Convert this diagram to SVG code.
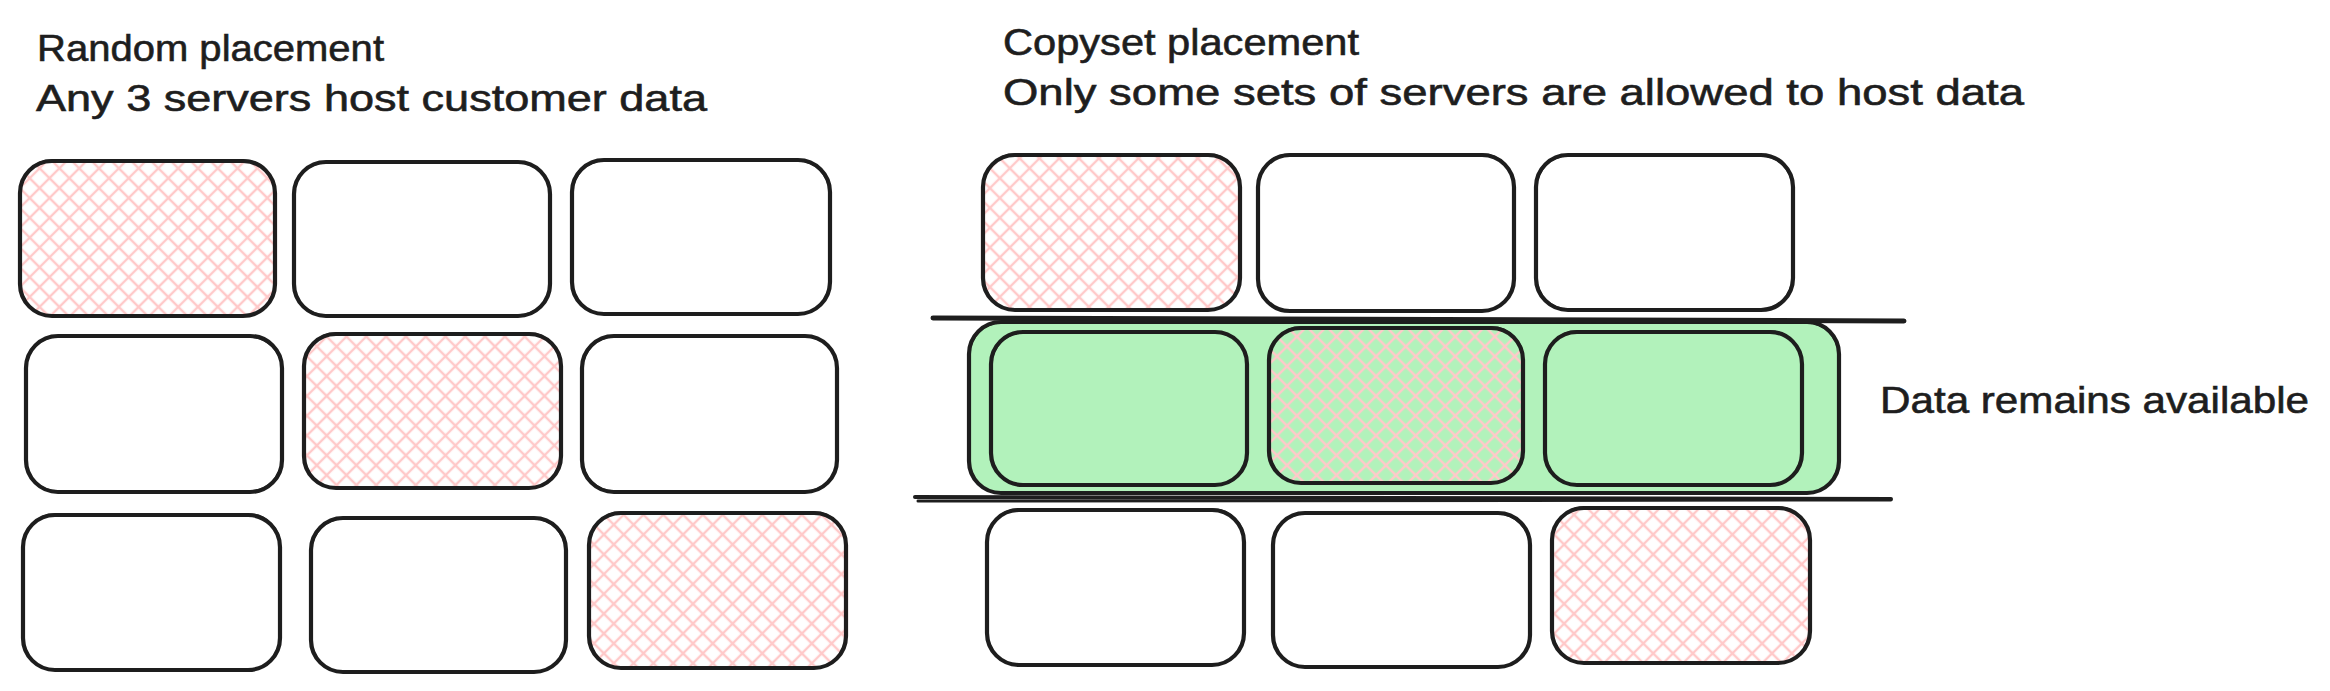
<svg xmlns="http://www.w3.org/2000/svg" width="2330" height="691" viewBox="0 0 2330 691">
<style>
.t{font-family:"Liberation Sans","DejaVu Sans",sans-serif;font-size:37px;fill:#1e1e1e;stroke:#1e1e1e;stroke-width:0.6}
.b{fill:none;stroke:#1e1e1e;stroke-width:4.2;stroke-linejoin:round}
.b2{fill:none;stroke:#1e1e1e;stroke-width:1.6;opacity:0.9}
.h{fill:url(#hatch);stroke:none}
.g{fill:#b2f2bb;stroke:none}
.ln{stroke:#1e1e1e;stroke-linecap:round;fill:none}
</style>
<defs>
<pattern id="hatch" patternUnits="userSpaceOnUse" width="14" height="14" patternTransform="rotate(45)">
<path d="M7 0V14M0 7H14" stroke="#ffc9c9" stroke-width="2.4"/>
</pattern>
</defs>
<rect width="2330" height="691" fill="#ffffff"/>

<g id="titles">
<text class="t" x="37" y="61" textLength="347" lengthAdjust="spacingAndGlyphs">Random placement</text>
<text class="t" x="36" y="111" textLength="671" lengthAdjust="spacingAndGlyphs">Any 3 servers host customer data</text>
<text class="t" x="1003" y="55" textLength="356" lengthAdjust="spacingAndGlyphs">Copyset placement</text>
<text class="t" x="1003" y="105" textLength="1021" lengthAdjust="spacingAndGlyphs">Only some sets of servers are allowed to host data</text>
</g>

<!-- Left: random placement -->
<g id="l-r1-b1"><rect class="h" x="20" y="161" width="255" height="155" rx="32"/><rect class="b" x="20" y="161" width="255" height="155" rx="32"/><rect class="b2" x="21" y="160" width="253" height="156" rx="31"/></g>
<g id="l-r1-b2"><rect class="b" x="294" y="162" width="256" height="154" rx="32"/><rect class="b2" x="293" y="163" width="258" height="152" rx="33"/></g>
<g id="l-r1-b3"><rect class="b" x="572" y="160" width="258" height="154" rx="32"/><rect class="b2" x="573" y="161" width="256" height="153" rx="31"/></g>

<g id="l-r2-b1"><rect class="b" x="26" y="336" width="256" height="156" rx="32"/><rect class="b2" x="25" y="337" width="257" height="154" rx="33"/></g>
<g id="l-r2-b2"><rect class="h" x="304" y="334" width="257" height="154" rx="32"/><rect class="b" x="304" y="334" width="257" height="154" rx="32"/><rect class="b2" x="305" y="333" width="255" height="155" rx="31"/></g>
<g id="l-r2-b3"><rect class="b" x="582" y="336" width="255" height="156" rx="32"/><rect class="b2" x="583" y="337" width="254" height="154" rx="31"/></g>

<g id="l-r3-b1"><rect class="b" x="23" y="515" width="257" height="155" rx="32"/><rect class="b2" x="24" y="514" width="256" height="156" rx="31"/></g>
<g id="l-r3-b2"><rect class="b" x="311" y="518" width="255" height="154" rx="32"/><rect class="b2" x="312" y="519" width="253" height="153" rx="31"/></g>
<g id="l-r3-b3"><rect class="h" x="589" y="513" width="257" height="155" rx="32"/><rect class="b" x="589" y="513" width="257" height="155" rx="32"/><rect class="b2" x="590" y="512" width="255" height="156" rx="31"/></g>

<!-- Right: copyset placement -->
<g id="r-r1-b1"><rect class="h" x="983" y="155" width="257" height="155" rx="32"/><rect class="b" x="983" y="155" width="257" height="155" rx="32"/><rect class="b2" x="984" y="154" width="255" height="156" rx="31"/></g>
<g id="r-r1-b2"><rect class="b" x="1258" y="155" width="256" height="156" rx="32"/><rect class="b2" x="1259" y="154" width="254" height="157" rx="31"/></g>
<g id="r-r1-b3"><rect class="b" x="1536" y="155" width="257" height="155" rx="32"/><rect class="b2" x="1537" y="156" width="255" height="153" rx="31"/></g>

<g id="copyset">
<rect class="g" x="969" y="322" width="870" height="171" rx="32"/>
<rect class="b" x="969" y="322" width="870" height="171" rx="32"/>
<rect class="b2" x="970" y="323" width="868" height="170" rx="31"/>
</g>
<g id="r-r2-b1"><rect class="g" x="991" y="332" width="256" height="153" rx="32"/><rect class="b" x="991" y="332" width="256" height="153" rx="32"/><rect class="b2" x="992" y="333" width="255" height="152" rx="31"/></g>
<g id="r-r2-b2"><rect class="g" x="1269" y="328" width="254" height="155" rx="32"/><rect class="h" x="1269" y="328" width="254" height="155" rx="32"/><rect class="b" x="1269" y="328" width="254" height="155" rx="32"/><rect class="b2" x="1270" y="327" width="253" height="156" rx="31"/></g>
<g id="r-r2-b3"><rect class="g" x="1545" y="332" width="257" height="153" rx="32"/><rect class="b" x="1545" y="332" width="257" height="153" rx="32"/><rect class="b2" x="1546" y="331" width="255" height="154" rx="31"/></g>

<g id="r-r3-b1"><rect class="b" x="987" y="510" width="257" height="155" rx="32"/><rect class="b2" x="988" y="509" width="256" height="156" rx="31"/></g>
<g id="r-r3-b2"><rect class="b" x="1273" y="513" width="257" height="154" rx="32"/><rect class="b2" x="1272" y="514" width="258" height="153" rx="33"/></g>
<g id="r-r3-b3"><rect class="h" x="1552" y="508" width="258" height="155" rx="32"/><rect class="b" x="1552" y="508" width="258" height="155" rx="32"/><rect class="b2" x="1553" y="507" width="256" height="156" rx="31"/></g>

<g id="connectors">
<path class="ln" d="M933 318L1904 321" stroke-width="5"/>
<path class="ln" d="M915 497L1891 499" stroke-width="4"/>
<path class="ln" d="M918 501L1891 500" stroke-width="3"/>
</g>

<g id="label-available">
<text class="t" x="1880" y="413" textLength="429" lengthAdjust="spacingAndGlyphs">Data remains available</text>
</g>
</svg>
